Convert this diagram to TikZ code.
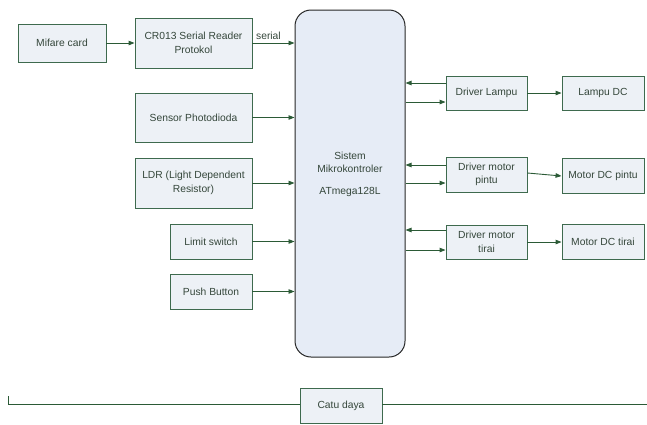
\documentclass[tikz,border=0pt]{standalone}
\usepackage{fontspec}
\setmainfont{Liberation Sans}
\usetikzlibrary{arrows.meta}
\definecolor{boxline}{HTML}{3E6A4E}
\definecolor{boxfill}{HTML}{EDF1F6}
\definecolor{mainfill}{HTML}{E6ECF6}
\definecolor{arrowcol}{HTML}{2B5A36}
\definecolor{txt}{HTML}{34463A}
\tikzset{
  blk/.style={draw=boxline, fill=boxfill, line width=0.9pt, inner sep=1pt, align=center,
    text=txt, font=\fontsize{10.3}{13.5}\selectfont},
  mainblk/.style={draw=black!85, fill=mainfill, line width=1pt, rounded corners=16pt},
  lbl/.style={text=txt, font=\fontsize{10.3}{13}\selectfont, inner sep=0pt, align=center},
  arr/.style={draw=arrowcol, line width=0.9pt, -{Triangle[length=6pt,width=4.5pt]}},
  ln/.style={draw=arrowcol, line width=0.9pt}
}
\begin{document}
\begin{tikzpicture}[x=1pt,y=-1pt]
\useasboundingbox (0,0) rectangle (647,424);
% main block
\node[mainblk, minimum width=110pt, minimum height=347pt] (main) at (350,183.5) {};
\node[lbl] (maintext) at (350,174) {Sistem\\Mikrokontroler\\[9pt]ATmega128L};
% left blocks
\node[blk, minimum width=88pt, minimum height=38pt] (mifare) at (62,43) {Mifare card};
\node[blk, minimum width=117pt, minimum height=50pt] (cr) at (193.5,43) {CR013 Serial Reader\\Protokol};
\node[blk, minimum width=117pt, minimum height=49pt] (sensor) at (193.5,117.5) {Sensor Photodioda};
\node[blk, minimum width=117pt, minimum height=50pt] (ldr) at (193.5,183) {LDR (Light Dependent\\Resistor)};
\node[blk, minimum width=82pt, minimum height=35pt] (limit) at (211,241.5) {Limit switch};
\node[blk, minimum width=82pt, minimum height=35pt] (push) at (211,291.5) {Push Button};
% right blocks
\node[blk, minimum width=81pt, minimum height=34pt] (dlampu) at (486.5,93) {Driver Lampu};
\node[blk, minimum width=82pt, minimum height=34pt] (lampu) at (603,93) {Lampu DC};
\node[blk, minimum width=81pt, minimum height=35pt] (dpintu) at (486.5,174.5) {Driver motor\\pintu};
\node[blk, minimum width=82pt, minimum height=35pt] (mpintu) at (603,175.5) {Motor DC pintu};
\node[blk, minimum width=81pt, minimum height=34pt] (dtirai) at (486.5,242) {Driver motor\\tirai};
\node[blk, minimum width=82pt, minimum height=35pt] (mtirai) at (603,241.5) {Motor DC tirai};
% power
\node[blk, minimum width=82pt, minimum height=35pt] (catu) at (341,405.5) {Catu daya};
\coordinate (pl) at (8,396);
\coordinate (pr) at (647,404.5);
% connectors left
\draw[arr] (mifare.east) -- (cr.west);
\draw[arr] (cr.east) -- node[lbl, above=3pt, pos=0.38] (seriallbl) {serial} (main.west |- cr.east);
\draw[arr] (sensor.east) -- (main.west |- sensor.east);
\draw[arr] (ldr.east) -- (main.west |- ldr.east);
\draw[arr] (limit.east) -- (main.west |- limit.east);
\draw[arr] (push.east) -- (main.west |- push.east);
% connectors right
\draw[arr] (dlampu.west |- 0,83) -- (main.east |- 0,83);
\draw[arr] (main.east |- 0,102) -- (dlampu.west |- 0,102);
\draw[arr] (dlampu.east) -- (lampu.west);
\draw[arr] (dpintu.west |- 0,165) -- (main.east |- 0,165);
\draw[arr] (main.east |- 0,183) -- (dpintu.west |- 0,183);
\draw[arr] (dpintu.east |- 0,173) -- (mpintu.west |- 0,176);
\draw[arr] (dtirai.west |- 0,230) -- (main.east |- 0,230);
\draw[arr] (main.east |- 0,250) -- (dtirai.west |- 0,250);
\draw[arr] (dtirai.east |- 0,242) -- (mtirai.west |- 0,242);
% power line
\draw[ln] (pl) -- (pl |- pr) -- (catu.west |- pr);
\draw[ln] (catu.east |- pr) -- (pr);
\end{tikzpicture}
\end{document}
